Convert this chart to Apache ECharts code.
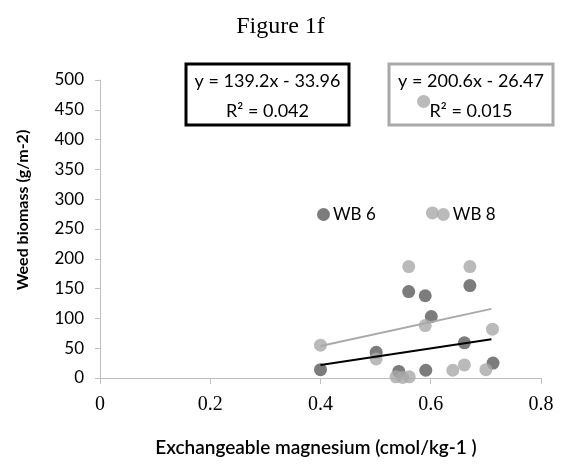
<!doctype html>
<html>
    <head>
        <meta charset="utf-8">
        <title>Figure 1f</title>
        <style>
            html, body { margin: 0; padding: 0; background: #fff; }
            #main { width: 561px; height: 466px; }
        </style>
    </head>
    <body>
        <div id="main"></div>
        <script src="https://cdn.jsdelivr.net/npm/echarts@6/dist/echarts.min.js"></script>
        <script>
            // exchangeable magnesium (x) and weed biomass (y)
            var wb6X = [0.40, 0.501, 0.542, 0.560, 0.590, 0.601, 0.591, 0.661, 0.671, 0.713];
            var wb6Y = [14, 43, 11, 145, 138, 103, 13, 59, 155, 25];

            var wb8X = [0.40, 0.501, 0.537, 0.549, 0.561, 0.560, 0.587, 0.590, 0.603, 0.640, 0.661, 0.671, 0.700, 0.712];
            var wb8Y = [55, 32, 2, 1, 2, 187, 464, 88, 277, 13, 22, 187, 14, 82];

            // linear trend lines as printed on the chart
            var wb6Fit = { slope: 139.2, intercept: -33.96, r2: '0.042' };
            var wb8Fit = { slope: 200.6, intercept: -26.47, r2: '0.015' };
            var fitRange = [0.40, 0.71];

            var xTicks = [0, 0.2, 0.4, 0.6, 0.8];

            var dark = '#5b5b5b';
            var light = '#a9a9a9';
            var axisGrey = '#bfbfbf';

            function pairs(xs, ys) {
                return xs.map(function (x, i) { return [x, ys[i]]; });
            }
            function fitLine(fit) {
                return fitRange.map(function (x) { return [x, fit.slope * x + fit.intercept]; });
            }
            function eqText(fit) {
                var b = Math.abs(fit.intercept).toFixed(2);
                return 'y = ' + fit.slope.toFixed(1) + 'x - ' + b + '\nR² = ' + fit.r2;
            }

            var chart = echarts.init(document.getElementById('main'));

            chart.setOption({
                animation: false,
                grid: { left: 100, right: 20, top: 80, bottom: 88 },
                legend: {
                    data: ['WB 6', 'WB 8'],
                    left: 312,
                    top: 201,
                    icon: 'circle',
                    itemWidth: 13,
                    itemHeight: 13,
                    itemGap: 61,
                    textStyle: { fontFamily: 'Lato', fontSize: 17, color: '#000', padding: [0, 0, 0, -2] }
                },
                xAxis: {
                    type: 'value',
                    min: 0,
                    max: 0.8,
                    interval: 0.2,
                    splitLine: { show: false },
                    axisLine: { lineStyle: { color: axisGrey, width: 1 } },
                    axisTick: { show: true, length: 6, lineStyle: { color: axisGrey } },
                    axisLabel: {
                        fontFamily: 'Liberation Serif',
                        fontSize: 20,
                        color: '#000',
                        margin: 17,
                        formatter: function (v) {
                            return xTicks.indexOf(v) >= 0 ? String(v) : '';
                        }
                    }
                },
                yAxis: {
                    type: 'value',
                    min: 0,
                    max: 500,
                    interval: 50,
                    splitLine: { show: false },
                    axisLine: { show: true, lineStyle: { color: axisGrey, width: 1 } },
                    axisTick: { show: true, length: 5, lineStyle: { color: axisGrey } },
                    axisLabel: { fontFamily: 'Lato', fontSize: 17, color: '#000', margin: 16 }
                },
                series: [
                    {
                        name: 'WB 6',
                        type: 'scatter',
                        symbolSize: 13,
                        itemStyle: { color: dark },
                        z: 2,
                        data: pairs(wb6X, wb6Y)
                    },
                    {
                        name: 'WB 8',
                        type: 'scatter',
                        symbolSize: 13,
                        itemStyle: { color: light },
                        z: 3,
                        data: pairs(wb8X, wb8Y)
                    },
                    {
                        name: 'WB 6 fit',
                        type: 'line',
                        showSymbol: false,
                        silent: true,
                        z: 4,
                        lineStyle: { color: '#000', width: 2 },
                        data: fitLine(wb6Fit)
                    },
                    {
                        name: 'WB 8 fit',
                        type: 'line',
                        showSymbol: false,
                        silent: true,
                        z: 4,
                        lineStyle: { color: light, width: 2 },
                        data: fitLine(wb8Fit)
                    }
                ],
                graphic: [
                    {
                        type: 'text',
                        left: 'center',
                        top: 15,
                        style: { text: 'Figure 1f', font: '24px "Liberation Serif"', fill: '#000' }
                    },
                    {
                        type: 'text',
                        x: 316,
                        y: 448,
                        style: {
                            text: 'Exchangeable magnesium (cmol/kg-1 )',
                            font: '600 19px Lato',
                            fill: '#000',
                            align: 'center',
                            verticalAlign: 'middle'
                        }
                    },
                    {
                        type: 'text',
                        x: 23,
                        y: 210,
                        rotation: Math.PI / 2,
                        style: {
                            text: 'Weed biomass (g/m-2)',
                            font: 'bold 16px Lato',
                            fill: '#000',
                            align: 'center',
                            verticalAlign: 'middle'
                        }
                    },
                    {
                        type: 'rect',
                        shape: { x: 186, y: 64, width: 163, height: 61 },
                        style: { fill: '#fff', stroke: '#000', lineWidth: 3 },
                        z: 10
                    },
                    {
                        type: 'text',
                        x: 267.5,
                        y: 96,
                        z: 11,
                        style: {
                            text: eqText(wb6Fit),
                            font: '18px Lato',
                            lineHeight: 30,
                            fill: '#000',
                            align: 'center',
                            verticalAlign: 'middle'
                        }
                    },
                    {
                        type: 'rect',
                        shape: { x: 389, y: 64, width: 164, height: 61 },
                        style: { fill: 'transparent', stroke: light, lineWidth: 3 },
                        z: 10
                    },
                    {
                        type: 'text',
                        x: 471,
                        y: 96,
                        z: 11,
                        style: {
                            text: eqText(wb8Fit),
                            font: '18px Lato',
                            lineHeight: 30,
                            fill: '#000',
                            align: 'center',
                            verticalAlign: 'middle'
                        }
                    }
                ]
            });
        </script>
    </body>
</html>
